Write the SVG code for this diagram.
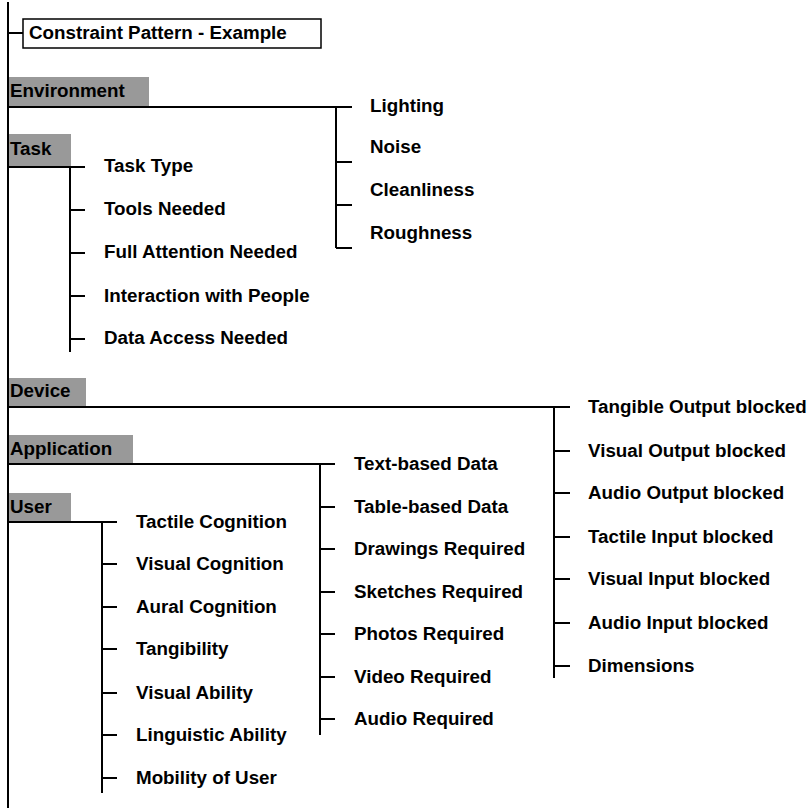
<svg xmlns="http://www.w3.org/2000/svg" width="812" height="808" viewBox="0 0 812 808">
<style>
text{font-family:"Liberation Sans",Arial,sans-serif;font-weight:bold;font-size:18.8px;fill:#000}
.hdr{fill:#999999}
#connectors path{fill:none;stroke:#000;stroke-width:2}
</style>
<rect width="812" height="808" fill="#fff"/>
<g id="connectors">
<path d="M8 2V808"/>
<path d="M8 33H23"/>
<path d="M8 107H352M336 107V248M336 162H352M336 205H352M336 248H352"/>
<path d="M8 167H85M70 167V352M70 210H85M70 253H85M70 296H85M70 339H85"/>
<path d="M8 407H570M554 407V678M554 451H570M554 493H570M554 537H570M554 579H570M554 623H570M554 666H570"/>
<path d="M8 464H335M320 464V735M320 507H335M320 549H335M320 592H335M320 634H335M320 677H335M320 719H335"/>
<path d="M8 522H117M102 522V793M102 564H117M102 607H117M102 649H117M102 693H117M102 735H117M102 778H117"/>
</g>
<g id="title">
<rect x="23" y="19" width="298" height="29" fill="#fff" stroke="#000" stroke-width="1.5"/>
<text x="29" y="39">Constraint Pattern - Example</text>
</g>
<g id="environment">
<rect class="hdr" x="9" y="77" width="140" height="29"/>
<text x="10" y="97">Environment</text>
</g>
<g id="env-items">
<text x="370" y="112">Lighting</text>
<text x="370" y="153">Noise</text>
<text x="370" y="196">Cleanliness</text>
<text x="370" y="239">Roughness</text>
</g>
<g id="task">
<rect class="hdr" x="9" y="134" width="62" height="32"/>
<text x="10" y="155">Task</text>
</g>
<g id="task-items">
<text x="104" y="172">Task Type</text>
<text x="104" y="215">Tools Needed</text>
<text x="104" y="258">Full Attention Needed</text>
<text x="104" y="302">Interaction with People</text>
<text x="104" y="344">Data Access Needed</text>
</g>
<g id="device">
<rect class="hdr" x="9" y="378" width="77" height="28"/>
<text x="10" y="397">Device</text>
</g>
<g id="device-items">
<text x="588" y="413">Tangible Output blocked</text>
<text x="588" y="457">Visual Output blocked</text>
<text x="588" y="499">Audio Output blocked</text>
<text x="588" y="543">Tactile Input blocked</text>
<text x="588" y="585">Visual Input blocked</text>
<text x="588" y="629">Audio Input blocked</text>
<text x="588" y="672">Dimensions</text>
</g>
<g id="application">
<rect class="hdr" x="9" y="435" width="124" height="28"/>
<text x="10" y="455">Application</text>
</g>
<g id="application-items">
<text x="354" y="470">Text-based Data</text>
<text x="354" y="513">Table-based Data</text>
<text x="354" y="555">Drawings Required</text>
<text x="354" y="598">Sketches Required</text>
<text x="354" y="640">Photos Required</text>
<text x="354" y="683">Video Required</text>
<text x="354" y="725">Audio Required</text>
</g>
<g id="user">
<rect class="hdr" x="9" y="493" width="62" height="28"/>
<text x="10" y="513">User</text>
</g>
<g id="user-items">
<text x="136" y="528">Tactile Cognition</text>
<text x="136" y="570">Visual Cognition</text>
<text x="136" y="613">Aural Cognition</text>
<text x="136" y="655">Tangibility</text>
<text x="136" y="699">Visual Ability</text>
<text x="136" y="741">Linguistic Ability</text>
<text x="136" y="784">Mobility of User</text>
</g>
</svg>
